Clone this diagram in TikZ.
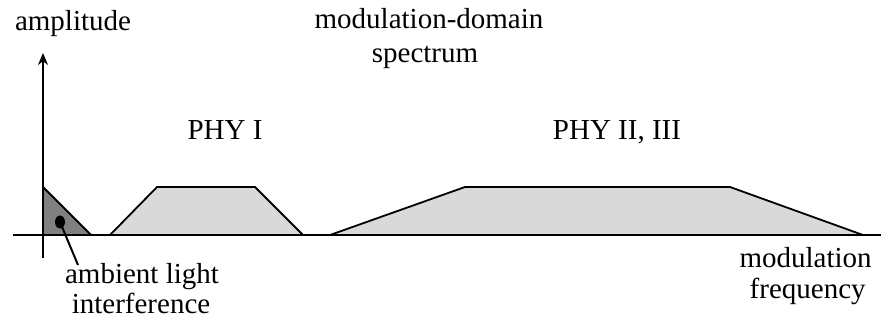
\documentclass[tikz,border=0pt]{standalone}
\usepackage{fontspec}
\setmainfont{Liberation Serif}
\usetikzlibrary{arrows.meta,shapes.geometric}
\begin{document}
\begin{tikzpicture}[x=0.5pt,y=-0.5pt,
  lbl/.style={inner sep=0pt,anchor=base,font=\fontsize{14.5}{17}\selectfont},
  axis/.style={line width=1pt},
  band/.style={line width=0.9pt,fill=black!15,line join=miter},
  amb/.style={line width=0.9pt,fill=black!50}]
\useasboundingbox (0,0) rectangle (881,321);
% bands
\draw[amb] (43,187) -- (91,235) -- (43,235) -- cycle;
\draw[band] (110,235) -- (157,187) -- (255,187) -- (303,235);
\draw[band] (330,235) -- (465,187) -- (730,187) -- (863,235);
% axes
\coordinate (xs) at (13,235);
\coordinate (xe) at (881,235);
\coordinate (ys) at (43,258);
\coordinate (ye) at (43,53);
\draw[axis] (xs) -- (xe);
\draw[axis,-{Stealth[length=6pt,width=5pt]}] (ys) -- (ye);
% labels
\node[lbl] (amp) at (73,30) {amplitude};
\node[lbl] (spec1) at (429,28) {modulation-domain};
\node[lbl] (spec2) at (425,62) {spectrum};
\node[lbl] (phy1) at (225,139) {PHY I};
\node[lbl] (phy2) at (617,139) {PHY II, III};
\node[lbl,anchor=base east] (mf1) at (872,267) {modulation};
\node[lbl,anchor=base east] (mf2) at (866,298) {frequency};
\node[lbl] (al1) at (142,283) {ambient light};
\node[lbl] (al2) at (141,313) {interference};
% dot and leader
\node[fill=black,ellipse,minimum width=5pt,minimum height=6.5pt,inner sep=0pt] (dot) at (60,222) {};
\coordinate (lead) at (78,265);
\draw[line width=1pt] (dot.center) -- (lead);
\end{tikzpicture}
\end{document}
